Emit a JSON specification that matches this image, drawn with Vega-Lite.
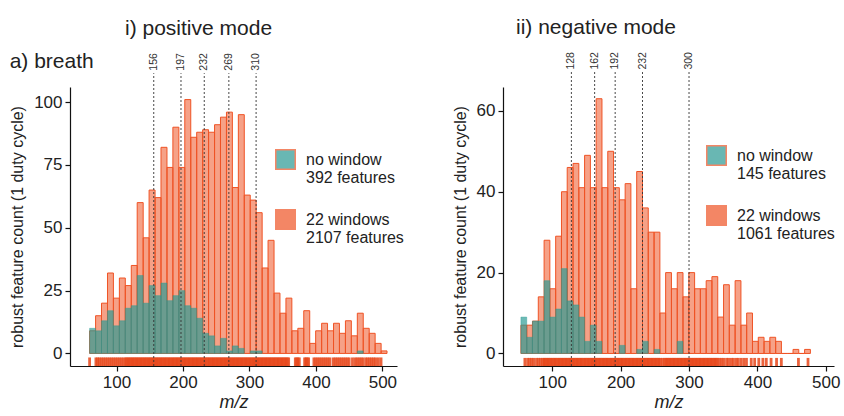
{
  "$schema": "https://vega.github.io/schema/vega-lite/v6.json",
  "background": "white",
  "padding": {"left": 9, "top": 17, "right": 5, "bottom": 5},
  "title": {"text": "a) breath", "anchor": "start", "frame": "bounds", "offset": -55, "fontSize": 21, "fontWeight": "normal", "color": "#222"},
  "spacing": 48,
  "datasets": {
    "posbars": [
      {"lo":59.5,"hi":68.5,"a":9,"b":10},{"lo":68.5,"hi":77.4,"a":15,"b":9},{"lo":77.4,"hi":86.4,"a":20,"b":13},{"lo":86.4,"hi":95.3,"a":32,"b":17},{"lo":95.3,"hi":104.3,"a":22,"b":11},
      {"lo":104.3,"hi":113.2,"a":30,"b":13},{"lo":113.2,"hi":122.2,"a":27,"b":18},{"lo":122.2,"hi":131.1,"a":35,"b":19},{"lo":131.1,"hi":140.1,"a":60,"b":31},{"lo":140.1,"hi":149,"a":46,"b":20},
      {"lo":149,"hi":158,"a":65,"b":27},{"lo":158,"hi":166.9,"a":62,"b":23},{"lo":166.9,"hi":175.9,"a":82,"b":28},{"lo":175.9,"hi":184.8,"a":74,"b":21},{"lo":184.8,"hi":193.8,"a":90,"b":23},
      {"lo":193.8,"hi":202.7,"a":74,"b":25},{"lo":202.7,"hi":211.7,"a":101,"b":19},{"lo":211.7,"hi":220.6,"a":86,"b":18},{"lo":220.6,"hi":229.6,"a":88,"b":14},{"lo":229.6,"hi":238.5,"a":89,"b":8},
      {"lo":238.5,"hi":247.5,"a":88,"b":7},{"lo":247.5,"hi":256.4,"a":91,"b":3},{"lo":256.4,"hi":265.4,"a":94,"b":6},{"lo":265.4,"hi":274.3,"a":96,"b":1},{"lo":274.3,"hi":283.3,"a":66,"b":3},
      {"lo":283.3,"hi":292.2,"a":95,"b":2},{"lo":292.2,"hi":301.2,"a":63,"b":0},{"lo":301.2,"hi":310.1,"a":61,"b":1},{"lo":310.1,"hi":319.1,"a":56,"b":1},{"lo":319.1,"hi":328,"a":34,"b":0},
      {"lo":328,"hi":337,"a":45,"b":0},{"lo":337,"hi":345.9,"a":24,"b":0},{"lo":345.9,"hi":354.9,"a":16,"b":0},{"lo":354.9,"hi":363.8,"a":22,"b":0},{"lo":363.8,"hi":372.8,"a":9,"b":0},
      {"lo":372.8,"hi":381.7,"a":10,"b":0},{"lo":381.7,"hi":390.7,"a":17,"b":0},{"lo":390.7,"hi":399.6,"a":4,"b":0},{"lo":399.6,"hi":408.6,"a":9,"b":0},{"lo":408.6,"hi":417.5,"a":12,"b":0},
      {"lo":417.5,"hi":426.5,"a":9,"b":0},{"lo":426.5,"hi":435.4,"a":12,"b":0},{"lo":435.4,"hi":444.4,"a":8,"b":0},{"lo":444.4,"hi":453.3,"a":13,"b":0},{"lo":453.3,"hi":462.3,"a":7,"b":0},
      {"lo":462.3,"hi":471.2,"a":16,"b":1},{"lo":471.2,"hi":480.2,"a":10,"b":0},{"lo":480.2,"hi":489.1,"a":8,"b":0},{"lo":489.1,"hi":498.1,"a":4,"b":0},{"lo":498.1,"hi":507,"a":1,"b":0}
    ],
    "negbars": [
      {"lo":54.2,"hi":62.7,"a":7,"b":9},{"lo":62.7,"hi":71.1,"a":7,"b":4},{"lo":71.1,"hi":79.6,"a":8,"b":8},{"lo":79.6,"hi":88.1,"a":14,"b":8},{"lo":88.1,"hi":96.5,"a":28,"b":18},
      {"lo":96.5,"hi":105,"a":16,"b":9},{"lo":105,"hi":113.5,"a":29,"b":11},{"lo":113.5,"hi":121.9,"a":40,"b":21},{"lo":121.9,"hi":130.4,"a":46,"b":13},{"lo":130.4,"hi":138.9,"a":47,"b":12},
      {"lo":138.9,"hi":147.3,"a":41,"b":9},{"lo":147.3,"hi":155.8,"a":49,"b":3},{"lo":155.8,"hi":164.2,"a":41,"b":7},{"lo":164.2,"hi":172.7,"a":63,"b":3},{"lo":172.7,"hi":181.2,"a":41,"b":0},
      {"lo":181.2,"hi":189.6,"a":50,"b":0},{"lo":189.6,"hi":198.1,"a":41,"b":0},{"lo":198.1,"hi":206.6,"a":38,"b":2},{"lo":206.6,"hi":215,"a":42,"b":0},{"lo":215,"hi":223.5,"a":16,"b":0},
      {"lo":223.5,"hi":232,"a":45,"b":1},{"lo":232,"hi":240.4,"a":36,"b":3},{"lo":240.4,"hi":248.9,"a":30,"b":0},{"lo":248.9,"hi":257.4,"a":30,"b":1},{"lo":257.4,"hi":265.8,"a":10,"b":0},
      {"lo":265.8,"hi":274.3,"a":20,"b":0},{"lo":274.3,"hi":282.8,"a":16,"b":0},{"lo":282.8,"hi":291.2,"a":20,"b":3},{"lo":291.2,"hi":299.7,"a":14,"b":0},{"lo":299.7,"hi":308.2,"a":20,"b":0},
      {"lo":308.2,"hi":316.6,"a":16,"b":0},{"lo":316.6,"hi":325.1,"a":16,"b":0},{"lo":325.1,"hi":333.5,"a":18,"b":0},{"lo":333.5,"hi":342,"a":19,"b":0},{"lo":342,"hi":350.5,"a":9,"b":0},
      {"lo":350.5,"hi":358.9,"a":17,"b":0},{"lo":358.9,"hi":367.4,"a":7,"b":0},{"lo":367.4,"hi":375.9,"a":18,"b":0},{"lo":375.9,"hi":384.3,"a":7,"b":0},{"lo":384.3,"hi":392.8,"a":10,"b":0},
      {"lo":392.8,"hi":401.3,"a":3,"b":0},{"lo":401.3,"hi":409.7,"a":4,"b":0},{"lo":409.7,"hi":418.2,"a":3,"b":0},{"lo":418.2,"hi":426.7,"a":4,"b":0},{"lo":426.7,"hi":435.1,"a":3,"b":0},
      {"lo":435.1,"hi":443.6,"a":0,"b":0},{"lo":443.6,"hi":452.1,"a":0,"b":0},{"lo":452.1,"hi":460.5,"a":1,"b":0},{"lo":460.5,"hi":469,"a":0,"b":0},{"lo":469,"hi":477.5,"a":1,"b":0}
    ],
    "posrug": [59.5,69,71.5,74,77,80,83,86,89,92,95,98,101,104,107,110,113,115,117,119,121,123,125,127,129,131,133,135,137,139,141,143,145,147,149,151,153,155,157,159,161,163,165,167,169,171,173,175,177,179,181,183,185,187,189,191,193,195,197,199,201,203,205,207,209,211,213,215,217,219,221,223,225,227,229,231,233,235,237,239,241,243,245,247,249,251,253,255,257,259,261,263,265,267,269,271,273,275,277,279,281,283,285,287,289,291,293,295,297,299,301,303,305,307,309,311,313,315,317,319,321,323,325,327,329,331,333,335,337,339,341,343,345,347,349,351,353,355,357,359,369,371,373,375,383,385,387,389,397,400,403,406,409,412,415,418,421,426,429,432,435,438,441,444,447,450,455,459,462,465,468,471,475,478,481,484,487,490,494,498],
    "negrug": [60,64,67,70,73,77,80,83,86,88,90,92,94,96,98,100,102,104,106,108,110,112,114,116,118,120,122,124,126,128,130,132,134,136,138,140,142,144,146,148,150,152,154,156,158,160,162,164,166,168,170,172,174,176,178,180,182,184,186,188,190,192,194,196,198,200,202,204,206,208,210,212,214,216,218,220,222,224,226,228,230,232,234,236,238,240,242,244,246,248,250,252,254,256,258,261,264,266,268,270,272,274,276,278,280,282,284,286,288,290,292,294,296,298,300,302,304,306,308,310,312,314,316,318,320,322,324,326,328,330,332,334,336,338,340,342,345,348,351,355,358,362,365,369,372,376,380,384,391,396,402,408,413,420,428,435,460,474],
    "pospeaks": [156,197,232,269,310],
    "negpeaks": [128,162,192,232,300]
  },
  "hconcat": [
    {
      "width": 327,
      "height": 279,
      "title": {"text": "i) positive mode", "anchor": "start", "frame": "group", "dx": 55, "fontSize": 21, "fontWeight": "normal", "color": "#222", "offset": 14},
      "layer": [
        {
          "data": {"name": "posbars"},
          "mark": {"type": "bar", "fillOpacity": 0.55, "stroke": "#EF5325", "strokeWidth": 1},
          "encoding": {
            "x": {"field": "lo", "type": "quantitative", "scale": {"domain": [30, 522], "nice": false, "zero": false}, "axis": {"values": [100, 200, 300, 400, 500], "title": "m/z", "titleFontStyle": "italic", "titleFontSize": 18, "titlePadding": 3}},
            "x2": {"field": "hi"},
            "y": {"field": "a", "type": "quantitative", "scale": {"domain": [-5, 106], "nice": false, "zero": false}, "axis": {"values": [0, 25, 50, 75, 100], "title": "robust feature count (1 duty cycle)"}},
            "y2": {"datum": 0},
            "color": {"datum": "w22", "type": "nominal", "scale": {"domain": ["nw", "w22"], "range": ["#2A9A94", "#EF5325"]},
              "legend": {"title": null, "orient": "none", "legendX": 205, "legendY": 62, "symbolType": "square", "symbolSize": 380, "symbolOpacity": 0.7, "labelFontSize": 16, "labelColor": "#222", "rowPadding": 20, "labelOffset": 10,
                "labelExpr": "datum.label == 'nw' ? ['no window', '392 features'] : ['22 windows', '2107 features']"}}
          }
        },
        {
          "data": {"name": "posbars"},
          "transform": [{"filter": "datum.b > 0"}],
          "mark": {"type": "bar", "fillOpacity": 0.68, "stroke": "#2A9A94", "strokeOpacity": 0.5, "strokeWidth": 0.8},
          "encoding": {
            "x": {"field": "lo", "type": "quantitative"},
            "x2": {"field": "hi"},
            "y": {"field": "b", "type": "quantitative"},
            "y2": {"datum": 0},
            "color": {"datum": "nw", "type": "nominal"}
          }
        },
        {
          "data": {"name": "posrug"},
          "mark": {"type": "rule", "strokeWidth": 2.8, "opacity": 0.85, "color": "#E8461A"},
          "encoding": {
            "x": {"field": "data", "type": "quantitative"},
            "y": {"datum": -1.6, "type": "quantitative"},
            "y2": {"datum": -5}
          }
        },
        {
          "data": {"name": "pospeaks"},
          "mark": {"type": "rule", "strokeDash": [2, 2], "strokeWidth": 0.9, "color": "#333"},
          "encoding": {
            "x": {"field": "data", "type": "quantitative"},
            "y": {"datum": -5, "type": "quantitative"},
            "y2": {"datum": 111.5}
          }
        },
        {
          "data": {"name": "pospeaks"},
          "mark": {"type": "text", "angle": 270, "align": "left", "baseline": "middle", "fontSize": 10.5, "color": "#333"},
          "encoding": {
            "x": {"field": "data", "type": "quantitative"},
            "y": {"datum": 112.5, "type": "quantitative"},
            "text": {"field": "data", "type": "quantitative"}
          }
        }
      ]
    },
    {
      "width": 331,
      "height": 279,
      "title": {"text": "ii) negative mode", "anchor": "start", "frame": "group", "dx": 13, "fontSize": 21, "fontWeight": "normal", "color": "#222", "offset": 14},
      "layer": [
        {
          "data": {"name": "negbars"},
          "mark": {"type": "bar", "fillOpacity": 0.55, "stroke": "#EF5325", "strokeWidth": 1},
          "encoding": {
            "x": {"field": "lo", "type": "quantitative", "scale": {"domain": [28, 512], "nice": false, "zero": false}, "axis": {"values": [100, 200, 300, 400, 500], "title": "m/z", "titleFontStyle": "italic", "titleFontSize": 18, "titlePadding": 3}},
            "x2": {"field": "hi"},
            "y": {"field": "a", "type": "quantitative", "scale": {"domain": [-3.1, 65.9], "nice": false, "zero": false}, "axis": {"values": [0, 20, 40, 60], "title": "robust feature count (1 duty cycle)"}},
            "y2": {"datum": 0},
            "color": {"datum": "w22", "type": "nominal", "scale": {"domain": ["nw", "w22"], "range": ["#2A9A94", "#EF5325"]},
              "legend": {"title": null, "orient": "none", "legendX": 203, "legendY": 58, "symbolType": "square", "symbolSize": 380, "symbolOpacity": 0.7, "labelFontSize": 16, "labelColor": "#222", "rowPadding": 20, "labelOffset": 10,
                "labelExpr": "datum.label == 'nw' ? ['no window', '145 features'] : ['22 windows', '1061 features']"}}
          }
        },
        {
          "data": {"name": "negbars"},
          "transform": [{"filter": "datum.b > 0"}],
          "mark": {"type": "bar", "fillOpacity": 0.68, "stroke": "#2A9A94", "strokeOpacity": 0.5, "strokeWidth": 0.8},
          "encoding": {
            "x": {"field": "lo", "type": "quantitative"},
            "x2": {"field": "hi"},
            "y": {"field": "b", "type": "quantitative"},
            "y2": {"datum": 0},
            "color": {"datum": "nw", "type": "nominal"}
          }
        },
        {
          "data": {"name": "negrug"},
          "mark": {"type": "rule", "strokeWidth": 2.8, "opacity": 0.85, "color": "#E8461A"},
          "encoding": {
            "x": {"field": "data", "type": "quantitative"},
            "y": {"datum": -1.1, "type": "quantitative"},
            "y2": {"datum": -3.1}
          }
        },
        {
          "data": {"name": "negpeaks"},
          "mark": {"type": "rule", "strokeDash": [2, 2], "strokeWidth": 0.9, "color": "#333"},
          "encoding": {
            "x": {"field": "data", "type": "quantitative"},
            "y": {"datum": -3.1, "type": "quantitative"},
            "y2": {"datum": 69.6}
          }
        },
        {
          "data": {"name": "negpeaks"},
          "mark": {"type": "text", "angle": 270, "align": "left", "baseline": "middle", "fontSize": 10.5, "color": "#333"},
          "encoding": {
            "x": {"field": "data", "type": "quantitative"},
            "y": {"datum": 70.2, "type": "quantitative"},
            "text": {"field": "data", "type": "quantitative"}
          }
        }
      ]
    }
  ],
  "resolve": {"scale": {"color": "independent"}, "legend": {"color": "independent"}},
  "config": {
    "font": "Liberation Sans",
    "view": {"stroke": null},
    "axis": {"grid": false, "domainColor": "#111", "tickColor": "#111", "labelColor": "#222", "titleColor": "#222", "labelFontSize": 17, "titleFontSize": 16, "titleFontWeight": "normal", "tickSize": 5, "labelPadding": 3, "titlePadding": 8, "domainWidth": 1.2, "tickWidth": 1.2}
  }
}
